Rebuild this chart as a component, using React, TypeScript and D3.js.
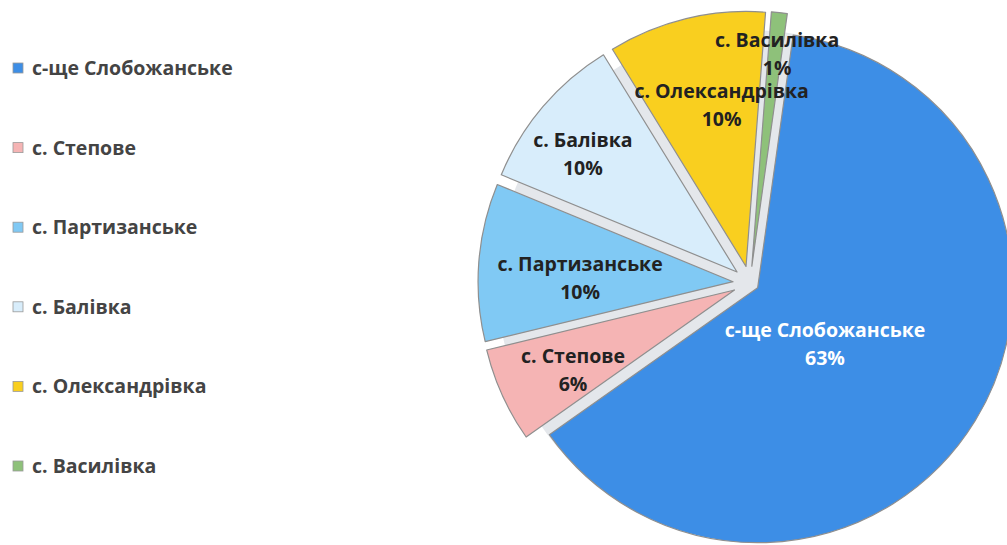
import React from "react";
import * as d3 from "d3";

const categories = [
  "с-ще Слобожанське",
  "с. Степове",
  "с. Партизанське",
  "с. Балівка",
  "с. Олександрівка",
  "с. Василівка",
];
const values = [63, 6, 10, 10, 10, 1];
const colors = ["#3d8ee6", "#f5b4b4", "#80c9f4", "#d8edfb", "#f9cf1f", "#8ec17a"];
const labelColors = ["#ffffff", "#222222", "#222222", "#222222", "#222222", "#222222"];

// layout constants
const W = 1007;
const H = 545;
const CX = 750;
const CY = 283;
const R = 255;
const EXPLODE = [9, 17, 17, 17, 17, 17];
const START_DEG = 8;
const LABEL_R = [0.344, 0.707, 0.6, 0.761, 0.64, 0.837];
const LABEL_ROT = [8.5, -2, -3, -3, 5, 0.6];
const FONT = "'Open Sans', 'Noto Sans', sans-serif";
const FS = 19.5;

export default function App() {
  const total = d3.sum(values);
  const start = (START_DEG * Math.PI) / 180;
  const pie = d3
    .pie<number>()
    .sort(null)
    .startAngle(start)
    .endAngle(start + Math.PI * 2)
    .value((d) => d);
  const arcs = pie(values);
  const arc = d3.arc<d3.PieArcDatum<number>>().innerRadius(0).outerRadius(R);

  const legendY = d3.scalePoint<string>().domain(categories).range([68, 466]);

  const vertex = (a: d3.PieArcDatum<number>, i: number) => {
    const mid = (a.startAngle + a.endAngle) / 2;
    return [CX + EXPLODE[i] * Math.sin(mid), CY - EXPLODE[i] * Math.cos(mid), mid];
  };

  return (
    <svg
      width={W}
      height={H}
      style={{ position: "absolute", left: 0, top: 0, background: "#fff" }}
    >
      <rect x={0} y={0} width={W} height={H} fill="#ffffff" />
      <circle cx={CX} cy={CY} r={R - 2} fill="#e4e7eb" />
      {arcs.map((a, i) => {
        const [vx, vy] = vertex(a, i);
        return (
          <path
            key={"s" + i}
            d={arc(a) || ""}
            transform={`translate(${vx},${vy})`}
            fill={colors[i]}
            stroke="#8f8f8f"
            strokeWidth={1.2}
            strokeLinejoin="round"
          />
        );
      })}
      {arcs.map((a, i) => {
        const [vx, vy, mid] = vertex(a, i);
        const ang = mid + (LABEL_ROT[i] * Math.PI) / 180;
        const lr = R * LABEL_R[i];
        const lx = vx + lr * Math.sin(ang);
        const ly = vy - lr * Math.cos(ang);
        const pct = Math.round((values[i] / total) * 100) + "%";
        return (
          <text
            key={"l" + i}
            x={lx}
            y={ly}
            textAnchor="middle"
            fontFamily={FONT}
            fontWeight={700}
            fontSize={FS}
            fill={labelColors[i]}
          >
            <tspan x={lx} dy={-7}>
              {categories[i]}
            </tspan>
            <tspan x={lx} dy={28}>
              {pct}
            </tspan>
          </text>
        );
      })}
      {categories.map((c, i) => {
        const y = legendY(c) as number;
        return (
          <g key={"g" + i}>
            <rect
              x={13}
              y={y - 5}
              width={10}
              height={10}
              fill={colors[i]}
              stroke="#9a9a9a"
              strokeWidth={0.8}
            />
            <text
              x={32}
              y={y + 7}
              fontFamily={FONT}
              fontWeight={700}
              fontSize={FS}
              fill="#444"
            >
              {c}
            </text>
          </g>
        );
      })}
    </svg>
  );
}
